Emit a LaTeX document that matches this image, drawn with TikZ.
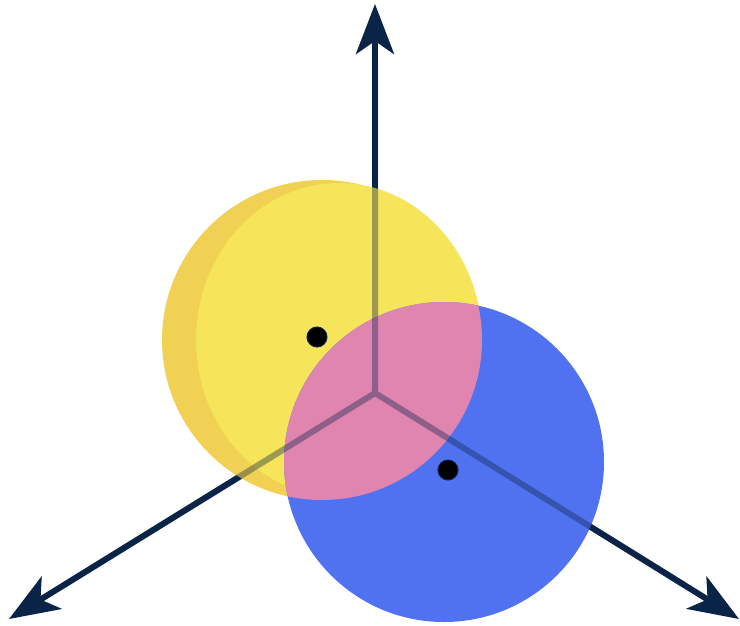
\documentclass[tikz,border=0pt]{standalone}
\usetikzlibrary{arrows.meta,calc}
\definecolor{axisnavy}{RGB}{10,36,71}
\definecolor{ydark}{RGB}{240,209,84}
\definecolor{ylight}{RGB}{246,228,90}
\definecolor{bluec}{RGB}{80,114,240}
\definecolor{pinkc}{RGB}{224,132,176}
\tikzset{
  axisline/.style={draw=axisnavy, line width=6pt, -{Stealth[length=50pt,width=38pt,inset=13pt]}},
  axisghost/.style={draw=axisnavy, line width=6pt},
  centerdot/.style={circle, fill=black, draw=axisnavy, line width=1pt, minimum size=20pt, inner sep=0pt}
}
\begin{document}
\begin{tikzpicture}[x=1pt,y=-1pt]
\useasboundingbox (0,0) rectangle (740,625);
\coordinate (O) at (375,393);
\coordinate (top) at (375,4);
\coordinate (left) at (9,619);
\coordinate (right) at (739,619);
\coordinate (Y) at (322,340);
\coordinate (B) at (444,462);
\draw[axisline] (O) -- (top);
\draw[axisline] (O) -- (left);
\draw[axisline] (O) -- (right);
\fill[ydark] (Y) circle (160);
\fill[ylight] (339,340) ellipse (143 and 157);
\fill[bluec] (B) circle (160);
\begin{scope}
  \clip (Y) circle (160);
  \fill[pinkc] (B) circle (160);
\end{scope}
\begin{scope}[transparency group, opacity=0.38]
  \draw[axisghost] (O) -- ($(O)!0.85!(top)$);
  \draw[axisghost] (O) -- ($(O)!0.85!(left)$);
  \draw[axisghost] (O) -- ($(O)!0.85!(right)$);
\end{scope}
\node[centerdot] (dy) at (317,337) {};
\node[centerdot] (db) at (448,470) {};
\end{tikzpicture}
\end{document}
